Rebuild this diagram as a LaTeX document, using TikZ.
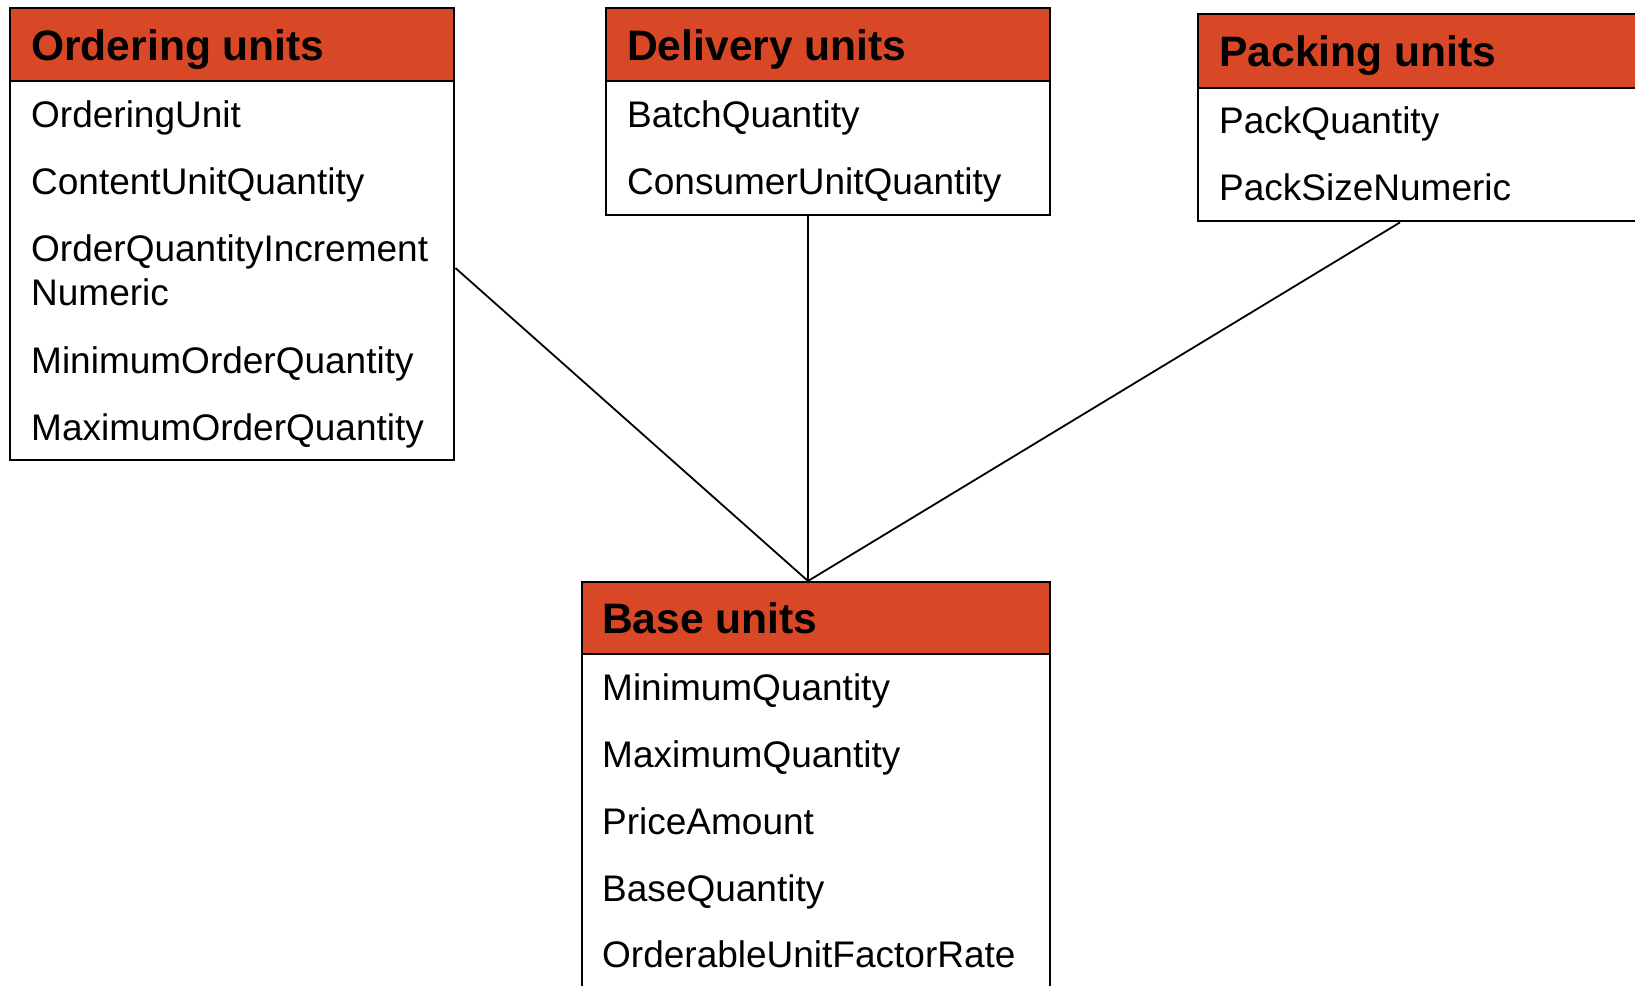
\documentclass[tikz,border=0pt]{standalone}
\usepackage{fontspec}
\setmainfont{Liberation Sans}
\usetikzlibrary{calc}
\definecolor{hdr}{RGB}{217,72,38}
\begin{document}
\begin{tikzpicture}[x=1pt,y=-1pt,
 box/.style={draw=black,line width=2.4pt,fill=white,rectangle,inner sep=0pt,anchor=north west},
 hbox/.style={draw=black,line width=2.4pt,fill=hdr,rectangle,inner sep=0pt,anchor=north west},
 htext/.style={anchor=base west,inner sep=0pt,font=\fontsize{42.6}{50}\selectfont\bfseries},
 ftext/.style={anchor=base west,inner sep=0pt,font=\fontsize{37}{44}\selectfont},
 link/.style={line width=1.8pt}]
\useasboundingbox (0,0) rectangle (1635,985);
\clip (0,0) rectangle (1635,985);
\fill[white] (0,0) rectangle (1635,985);

% Ordering units
\node[box,minimum width=444pt,minimum height=452pt] (ord) at (9,7) {};
\node[hbox,minimum width=444pt,minimum height=73pt] (ordh) at (9,7) {};
\node[htext] (ordt) at (31,60) {Ordering units};
\node[ftext] (o1) at (31,127) {OrderingUnit};
\node[ftext] (o2) at (31,194) {ContentUnitQuantity};
\node[ftext] (o3) at (31,261) {OrderQuantityIncrement};
\node[ftext] (o4) at (31,305) {Numeric};
\node[ftext] (o5) at (31,373) {MinimumOrderQuantity};
\node[ftext] (o6) at (31,440) {MaximumOrderQuantity};

% Delivery units
\node[box,minimum width=444pt,minimum height=207pt] (del) at (605,7) {};
\node[hbox,minimum width=444pt,minimum height=73pt] (delh) at (605,7) {};
\node[htext] (delt) at (627,60) {Delivery units};
\node[ftext] (d1) at (627,127) {BatchQuantity};
\node[ftext] (d2) at (627,194) {ConsumerUnitQuantity};

% Packing units
\node[box,minimum width=460pt,minimum height=207pt] (pack) at (1197,13) {};
\node[hbox,minimum width=460pt,minimum height=74pt] (packh) at (1197,13) {};
\node[htext] (packt) at (1219,66) {Packing units};
\node[ftext] (p1) at (1219,133) {PackQuantity};
\node[ftext] (p2) at (1219,200) {PackSizeNumeric};

% Base units
\node[box,minimum width=468pt,minimum height=430pt] (base) at (581,581) {};
\node[hbox,minimum width=468pt,minimum height=72pt] (baseh) at (581,581) {};
\node[htext] (baset) at (602,633) {Base units};
\node[ftext] (b1) at (602,700) {MinimumQuantity};
\node[ftext] (b2) at (602,767) {MaximumQuantity};
\node[ftext] (b3) at (602,834) {PriceAmount};
\node[ftext] (b4) at (602,901) {BaseQuantity};
\node[ftext] (b5) at (602,967) {OrderableUnitFactorRate};

% connectors
\coordinate (j) at ($(baseh.north west)+(227,0)$);
\coordinate (oc) at ($(ord.north east)+(0,261)$);
\coordinate (dc) at ($(del.south west)+(203,0)$);
\coordinate (pc) at ($(pack.south west)+(203,0)$);
\draw[link] (oc) -- (j);
\draw[link] (dc) -- (j);
\draw[link] (pc) -- (j);
\end{tikzpicture}
\end{document}
